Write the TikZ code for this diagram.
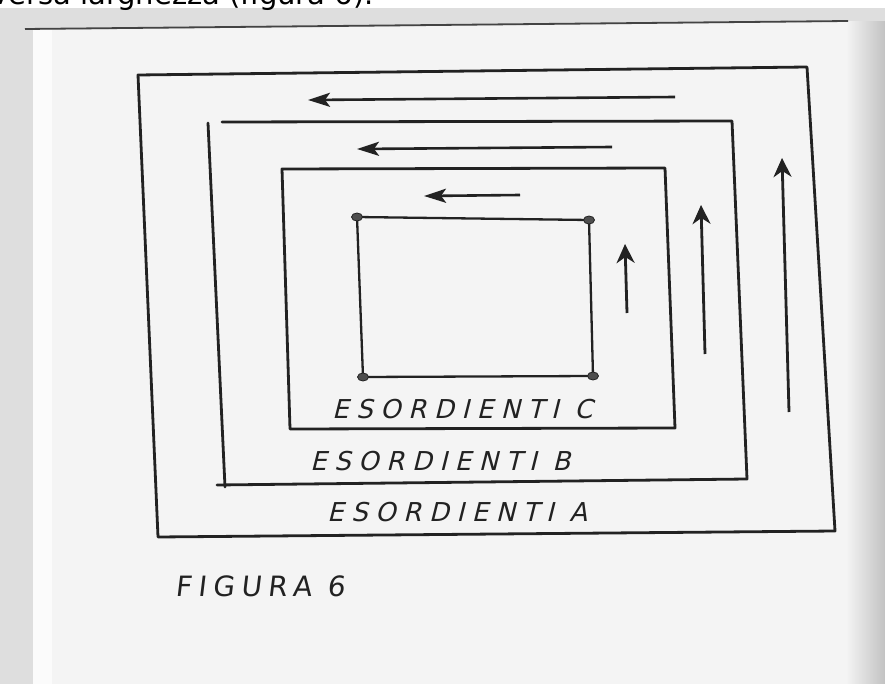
\documentclass[tikz,border=0pt]{standalone}
\usepackage{fontspec}
\setmainfont{DejaVu Sans}
\newfontfamily\headfont{DejaVu Sans}
\newfontfamily\handfont{DejaVu Sans}[FakeSlant=0.25,LetterSpace=29]
\newfontfamily\figfont{DejaVu Sans}[FakeSlant=0.12,LetterSpace=23]
\usetikzlibrary{arrows.meta}
\definecolor{ink}{HTML}{222222}
\definecolor{paper}{HTML}{F4F4F4}
\definecolor{bggray}{HTML}{DEDEDE}
\definecolor{shadowgray}{HTML}{C2C2C2}
\tikzset{
  frame/.style={draw=ink, line width=2.8pt, line join=round, line cap=round},
  harrow/.style={draw=ink, line width=2.6pt, -{Stealth[length=22pt,width=14pt,inset=5pt]}},
  varrow/.style={draw=ink, line width=2.8pt, -{Stealth[length=19pt,width=18pt,inset=6pt]}},
  cornerdot/.style={fill=ink!80, draw=ink, line width=0.8pt},
  label/.style={text=ink, anchor=west, inner sep=0pt},
}
\begin{document}
\begin{tikzpicture}[x=1pt,y=-1pt]
\useasboundingbox (0,0) rectangle (885,684);
% background and paper
\fill[bggray] (0,0) rectangle (885,684);
\fill[white] (0,0) rectangle (885,8);
\fill[paper] (33,30) -- (848,22) -- (848,684) -- (33,684) -- cycle;
\fill[white!97!gray] (33,30) rectangle (52,684);
\shade[left color=paper, right color=shadowgray] (846,22) rectangle (885,684);
\draw[ink!85, line width=1.8pt] (25,29) -- (848,21);
% header text (cropped)
\node[anchor=base west, inner sep=0pt, font=\headfont\fontsize{29}{34}\selectfont] (hdr) at (-9,5) {versa larghezza (figura 6).};
% outer frame A
\coordinate (a1) at (138,75);
\coordinate (a2) at (807,67);
\coordinate (a3) at (835,531);
\coordinate (a4) at (158,537);
\draw[frame] (a1) -- (a2) -- (a3) -- (a4) -- cycle;
% frame B
\coordinate (b0) at (222,122);
\coordinate (b1) at (208,123);
\coordinate (b2) at (732,121);
\coordinate (b3) at (747,479);
\coordinate (b4) at (225,487);
\coordinate (b5) at (217,485);
\draw[frame] (b0) -- (b2) -- (b3) -- (b5);
\draw[frame] (b1) -- (b4);
% frame C
\coordinate (c1) at (282,169);
\coordinate (c2) at (665,168);
\coordinate (c3) at (675,428);
\coordinate (c4) at (290,429);
\draw[frame] (c1) -- (c2) -- (c3) -- (c4) -- cycle;
% inner square
\coordinate (s1) at (357,217);
\coordinate (s2) at (589,220);
\coordinate (s3) at (593,376);
\coordinate (s4) at (363,377);
\draw[ink, line width=2.3pt, line join=round] (s1) -- (s2) -- (s3) -- (s4) -- cycle;
\foreach \p in {s1,s2,s3,s4}
  \fill[cornerdot] (\p) ellipse [x radius=5.5pt, y radius=4pt];
% horizontal arrows
\coordinate (h1s) at (675,97);
\coordinate (h1e) at (308,100);
\coordinate (h2s) at (612,147);
\coordinate (h2e) at (357,149);
\coordinate (h3s) at (520,195);
\coordinate (h3e) at (424,196);
\draw[harrow] (h1s) -- (h1e);
\draw[harrow] (h2s) -- (h2e);
\draw[harrow] (h3s) -- (h3e);
% vertical arrows
\coordinate (v1s) at (627,313);
\coordinate (v1e) at (625,244);
\coordinate (v2s) at (705,354);
\coordinate (v2e) at (701,205);
\coordinate (v3s) at (789,412);
\coordinate (v3e) at (782,158);
\draw[varrow] (v1s) -- (v1e);
\draw[varrow] (v2s) -- (v2e);
\draw[varrow] (v3s) -- (v3e);
% labels
\node[label, font=\handfont\fontsize{26}{30}\selectfont] (lc) at (332,409) {ESORDIENTI C};
\node[label, font=\handfont\fontsize{26}{30}\selectfont] (lb) at (310,461) {ESORDIENTI B};
\node[label, font=\handfont\fontsize{26}{30}\selectfont] (la) at (327,512) {ESORDIENTI A};
\node[label, font=\figfont\fontsize{28}{32}\selectfont] (fig) at (175,586) {FIGURA 6};
\end{tikzpicture}
\end{document}
